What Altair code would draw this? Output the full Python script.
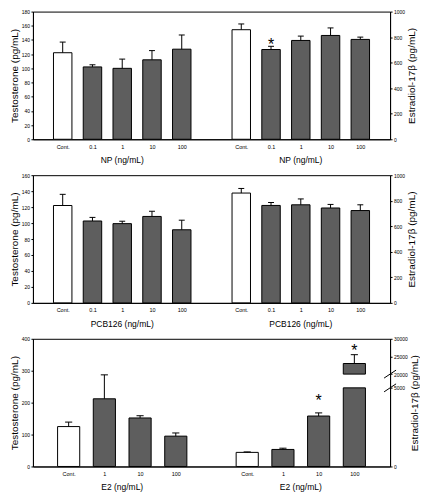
import altair as alt
import pandas as pd

FONT = "Liberation Sans"

# ---------------- data ----------------
np_doses = ["Cont.", "0.1", "1", "10", "100"]
np_testo = [122, 102, 100, 112, 127]
np_testo_err = [15, 3, 13, 13, 20]
np_estra = [858, 703, 774, 813, 782]
np_estra_err = [45, 25, 34, 59, 18]
np_star = [None, 771, None, None, None]

pcb_doses = ["Cont.", "0.1", "1", "10", "100"]
pcb_testo = [122, 102.6, 99.3, 108.3, 91.6]
pcb_testo_err = [14, 4.5, 3, 6.5, 12]
pcb_estra = [860, 763, 768, 743, 723]
pcb_estra_err = [36, 23, 46, 28, 45]
pcb_star = [None, None, None, None, None]

e2_doses = ["Cont.", "1", "10", "100"]
e2_testo = [125, 212, 152, 95]
e2_testo_err = [14, 75, 7, 10]
e2_estra = [896, 1083, 3208, 23000]
e2_estra_err = [30, 80, 200, 2500]
e2_star = [None, None, 4437, 27778]

# axis settings
np_t_ticks = [0, 20, 40, 60, 80, 100, 120, 140, 160, 180]
pcb_t_ticks = [0, 20, 40, 60, 80, 100, 120, 140, 160]
e2_t_ticks = [0, 100, 200, 300, 400]
e_ticks_1000 = [0, 200, 400, 600, 800, 1000]
e2_e_ticks = [0, 5000, 20000, 25000, 30000]
e2_break = [5000, 20000]

W = 358
H = 128
HALF = 0.31
CAP = 0.1

BAR_FILL = ["white", "#5e5e5e"]


def y_axis(orient, ticks, title):
    kw = dict(
        orient=orient, values=ticks, format="d", title=title, grid=False,
        labelFontSize=5, labelPadding=1.5, tickSize=2, tickColor="black",
        domainColor="black", labelColor="black", titleFontSize=10,
        titleFontWeight="normal", titleColor="black", titlePadding=2,
        labelFont=FONT, titleFont=FONT,
    )
    if orient == "right":
        kw["titleAngle"] = 270
        kw["titleBaseline"] = "top"
    return alt.Axis(**kw)


def panel(doses, t, t_err, e, e_err, stars, xtitle, t_ticks, e_ticks,
          e_range=None, breaks=None):
    n = len(doses)
    xmax = 2 * n + 2
    pos_t = [i + 1 for i in range(n)]
    pos_e = [n + 2 + i for i in range(n)]

    labels = [""] * (xmax + 1)
    for i in range(n):
        labels[pos_t[i]] = doses[i]
        labels[pos_e[i]] = doses[i]
    label_expr = "[" + ",".join("'%s'" % s for s in labels) + "][round(datum.value)]"

    xscale = alt.Scale(domain=[0, xmax], nice=False, zero=False)
    xaxis = alt.Axis(
        values=pos_t + pos_e, labelExpr=label_expr, ticks=False,
        title=None, grid=False, labelFontSize=5.5, labelPadding=5,
        domainColor="black", labelColor="black", labelFont=FONT,
    )

    def X(field):
        return alt.X(field, scale=xscale, axis=xaxis)

    def rows(pos, vals, errs):
        return pd.DataFrame({
            "pos": pos, "v": vals, "err": errs,
            "top": [v + d for v, d in zip(vals, errs)],
            "x1": [p - HALF for p in pos], "x2": [p + HALF for p in pos],
            "c1": [p - CAP for p in pos], "c2": [p + CAP for p in pos],
            "kind": ["ctrl"] + ["trt"] * (len(pos) - 1),
        })

    dt = rows(pos_t, t, t_err)
    de = rows(pos_e, e, e_err)

    def segments(df):
        seg = []
        for _, r in df.iterrows():
            if breaks is not None and r.v > breaks[1]:
                seg.append(dict(x1=r.x1, x2=r.x2, y0=0, y1=breaks[0], kind=r.kind))
                seg.append(dict(x1=r.x1, x2=r.x2, y0=breaks[1], y1=r.v, kind=r.kind))
            else:
                seg.append(dict(x1=r.x1, x2=r.x2, y0=0, y1=r.v, kind=r.kind))
        return pd.DataFrame(seg)

    fill = alt.Fill("kind:N", scale=alt.Scale(domain=["ctrl", "trt"], range=BAR_FILL),
                    legend=None)

    t_scale = alt.Scale(domain=[t_ticks[0], t_ticks[-1]], nice=False, zero=True)
    if e_range is None:
        e_scale = alt.Scale(domain=[e_ticks[0], e_ticks[-1]], nice=False, zero=True)
    else:
        e_scale = alt.Scale(domain=e_ticks[:1] + breaks + e_ticks[-1:], range=e_range,
                            nice=False, zero=False)

    layers = []
    # ---- testosterone (left axis)
    layers.append(alt.Chart(segments(dt)).mark_bar(stroke="black", strokeWidth=1).encode(
        x=X("x1:Q"), x2="x2:Q",
        y=alt.Y("y1:Q", scale=t_scale, axis=y_axis("left", t_ticks, "Testosterone (pg/mL)")),
        y2="y0:Q",
        fill=fill,
    ))
    layers.append(alt.Chart(dt).mark_rule(color="black", strokeWidth=1).encode(
        x=X("pos:Q"),
        y=alt.Y("v:Q", scale=t_scale, axis=None), y2="top:Q"))
    layers.append(alt.Chart(dt).mark_rule(color="black", strokeWidth=1).encode(
        x=X("c1:Q"), x2="c2:Q",
        y=alt.Y("top:Q", scale=t_scale, axis=None)))

    # ---- estradiol (right axis)
    layers.append(alt.Chart(segments(de)).mark_bar(stroke="black", strokeWidth=1).encode(
        x=X("x1:Q"), x2="x2:Q",
        y=alt.Y("y1:Q", scale=e_scale,
                axis=y_axis("right", e_ticks, "Estradiol-17β (pg/mL)")),
        y2="y0:Q",
        fill=fill,
    ))
    layers.append(alt.Chart(de).mark_rule(color="black", strokeWidth=1).encode(
        x=X("pos:Q"),
        y=alt.Y("v:Q", scale=e_scale, axis=None), y2="top:Q"))
    layers.append(alt.Chart(de).mark_rule(color="black", strokeWidth=1).encode(
        x=X("c1:Q"), x2="c2:Q",
        y=alt.Y("top:Q", scale=e_scale, axis=None)))

    sd = pd.DataFrame({"pos": pos_e, "s": stars}).dropna()
    if len(sd):
        layers.append(alt.Chart(sd).mark_text(
            text="*", fontSize=16, font=FONT, baseline="middle", dy=4, color="black"
        ).encode(x=X("pos:Q"),
                 y=alt.Y("s:Q", scale=e_scale, axis=None)))
    if breaks is not None:
        bd = pd.DataFrame({"b": breaks})
        layers.append(alt.Chart(bd).mark_rule(
            color="black", strokeWidth=1, yOffset=4, y2Offset=-4).encode(
            x=alt.value(W - 6), x2=alt.value(W + 6),
            y=alt.Y("b:Q", scale=e_scale, axis=None), y2="b:Q"))

    # x-axis titles under each group
    layers.append(alt.Chart(pd.DataFrame({
        "xc": [(pos_t[0] + pos_t[-1]) / 2, (pos_e[0] + pos_e[-1]) / 2],
        "t": [xtitle, xtitle]})).mark_text(
        fontSize=8.5, font=FONT, baseline="middle", color="black").encode(
        x=X("xc:Q"), y=alt.value(H + 21), text="t:N"))

    return alt.layer(*layers).resolve_scale(y="independent").properties(
        width=W, height=H)


p1 = panel(np_doses, np_testo, np_testo_err, np_estra, np_estra_err, np_star,
           "NP (ng/mL)", np_t_ticks, e_ticks_1000)
p2 = panel(pcb_doses, pcb_testo, pcb_testo_err, pcb_estra, pcb_estra_err, pcb_star,
           "PCB126 (ng/mL)", pcb_t_ticks, e_ticks_1000)
e2_range = [H, round(H * (1 - 80 / 130), 1), round(H * (1 - 94 / 130), 1), 0]
p3 = panel(e2_doses, e2_testo, e2_testo_err, e2_estra, e2_estra_err, e2_star,
           "E2 (ng/mL)", e2_t_ticks, e2_e_ticks, e_range=e2_range, breaks=e2_break)

chart = (alt.vconcat(p1, p2, p3, spacing=7)
         .properties(padding=0)
         .configure(font=FONT)
         .configure_view(stroke="black", strokeWidth=1))

chart.save("out.html", embed_options={"renderer": "svg", "actions": False})
